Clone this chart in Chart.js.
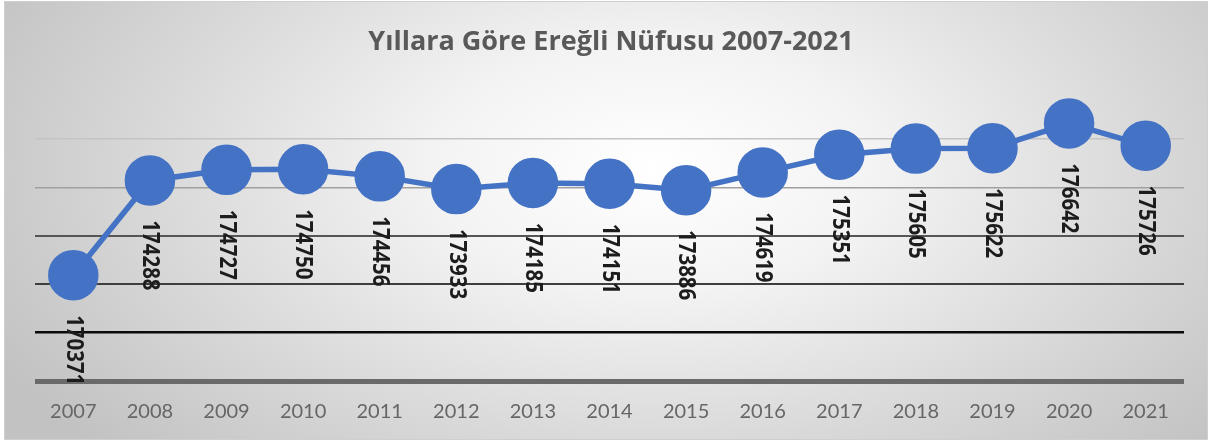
<!DOCTYPE html>
<html>
<head>
<meta charset="utf-8">
<script src="https://cdn.jsdelivr.net/npm/chart.js@4"></script>
<style>
  html, body { margin: 0; padding: 0; width: 1212px; height: 444px; background: #ffffff; overflow: hidden; }
  #frame {
    position: absolute; left: 4px; top: 1px; width: 1202px; height: 437px;
    border: 1px solid #cfcfcf;
    background: radial-gradient(ellipse 62% 95% at 54% 38%, #ffffff 0%, #f3f3f3 30%, #dadada 65%, #c2c2c2 100%);
  }
  #wrap { position: absolute; left: 0; top: 0; width: 1212px; height: 444px; }
</style>
</head>
<body>
<div id="frame"></div>
<div id="wrap"><canvas id="c" width="1212" height="444"></canvas></div>
<script>
const years = ["2007","2008","2009","2010","2011","2012","2013","2014","2015","2016","2017","2018","2019","2020","2021"];
const population = [170371,174288,174727,174750,174456,173933,174185,174151,173886,174619,175351,175605,175622,176642,175726];
const chartTitle = "Yıllara Göre Ereğli Nüfusu 2007-2021";

const gridStyle = {
  178000: ["rgba(0,0,0,0)", 0],
  176000: ["#c4c4c4", 1.5],
  174000: ["#a0a0a0", 1.5],
  172000: ["#555555", 2],
  170000: ["#3e3e3e", 2],
  168000: ["#0a0a0a", 2.5],
  166000: ["#6a6a6a", 5]
};

const valueLabels = {
  id: 'valueLabels',
  afterDatasetsDraw(chart) {
    const ctx = chart.ctx;
    const meta = chart.getDatasetMeta(0);
    const data = chart.data.datasets[0].data;
    ctx.save();
    ctx.font = "bold 22px 'Open Sans', sans-serif";
    ctx.fillStyle = "#1c1c1c";
    ctx.textAlign = "center";
    ctx.textBaseline = "middle";
    meta.data.forEach((pt, i) => {
      ctx.save();
      ctx.translate(pt.x, pt.y + 75);
      ctx.rotate(Math.PI / 2);
      ctx.scale(0.93, 1.06);
      ctx.fillText(String(data[i]), 0, 0);
      ctx.restore();
    });
    ctx.restore();
  }
};

new Chart(document.getElementById('c'), {
  type: 'line',
  data: {
    labels: years,
    datasets: [{
      data: population,
      borderColor: '#4472C4',
      backgroundColor: '#4472C4',
      pointBackgroundColor: '#4472C4',
      pointBorderColor: '#4472C4',
      borderWidth: 5.5,
      pointRadius: 22.5,
      pointHoverRadius: 22.5,
      tension: 0,
      fill: false
    }]
  },
  options: {
    responsive: false,
    animation: false,
    events: [],
    layout: { padding: { left: 35, right: 25, top: 0, bottom: 1 } },
    plugins: {
      legend: { display: false },
      tooltip: { enabled: false },
      title: {
        display: true,
        text: chartTitle,
        color: '#595959',
        font: { family: 'Open Sans', size: 27, weight: 'bold', lineHeight: 1.2 },
        padding: { top: 26.4, bottom: 31.8 }
      }
    },
    scales: {
      x: {
        offset: true,
        grid: { display: false, drawTicks: false },
        border: { display: false },
        ticks: { color: '#666666', font: { family: 'Lato', size: 20, lineHeight: 1.2 }, padding: 19, maxRotation: 0, autoSkip: false }
      },
      y: {
        min: 166000,
        max: 178000,
        ticks: { display: false, stepSize: 2000 },
        border: { display: false },
        grid: {
          drawTicks: false,
          color: (c) => (gridStyle[c.tick && c.tick.value] || ["#bbb", 1])[0],
          lineWidth: (c) => (gridStyle[c.tick && c.tick.value] || ["#bbb", 1])[1]
        },
        afterFit: (s) => { s.width = 0; }
      }
    }
  },
  plugins: [valueLabels]
});
</script>
</body>
</html>
